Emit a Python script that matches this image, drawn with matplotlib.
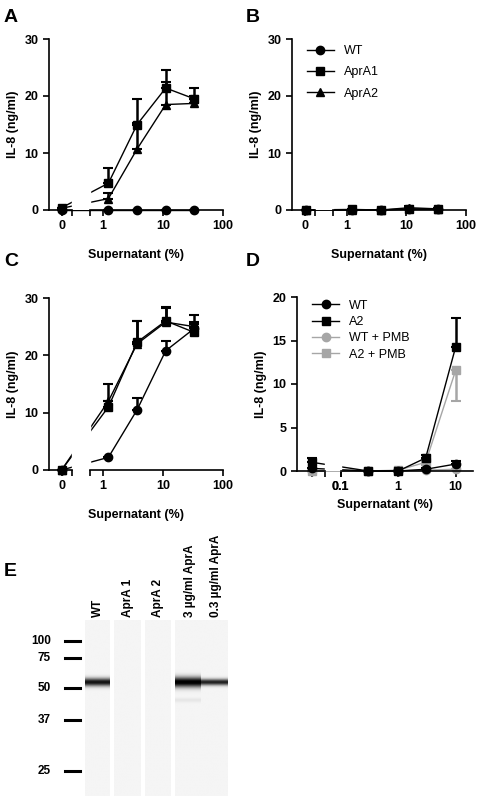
import numpy as np
import matplotlib.pyplot as plt
from matplotlib.transforms import blended_transform_factory

plt.rcParams["font.family"] = ["Liberation Sans", "DejaVu Sans"]
plt.rcParams["font.weight"] = "bold"

W, H = 487, 800
GREY = "#a6a6a6"
FS = 9

# ---- data (supernatant %, IL-8 ng/ml mean, SEM) ----
conc_abc = [1.23, 3.7, 11.1, 33.3]
conc_d = [0.3, 1, 3, 10]

a_wt = [0, 0, 0, 0, 0]
a_wt_err = [0, 0, 0, 0, 0]
a_a1 = [0.4, 4.7, 15.0, 21.4, 19.5]
a_a1_err = [0, 2.7, 4.5, 3.1, 1.9]
a_a2 = [0.3, 2.0, 10.7, 18.5, 18.7]
a_a2_err = [0, 1.0, 4.5, 4.0, 1.3]

b_wt = [0, 0, 0, 0.1, 0.1]
b_wt_err = [0, 0, 0, 0.2, 0.2]
b_a1 = [0, 0.1, 0, 0.2, 0.2]
b_a1_err = [0, 0, 0, 0.2, 0.2]
b_a2 = [0, 0, 0, 0.4, 0.2]
b_a2_err = [0, 0, 0, 0.3, 0.2]

c_wt = [0, 2.2, 10.5, 20.8, 24.7]
c_wt_err = [0, 0, 2.0, 1.7, 1.2]
c_a1 = [0, 11.0, 22.3, 26.0, 24.0]
c_a1_err = [0, 1.0, 3.7, 2.3, 1.5]
c_a2 = [0, 12.0, 22.0, 25.8, 25.0]
c_a2_err = [0, 3.0, 4.0, 2.7, 2.0]

d_wt = [0.3, 0, 0, 0.2, 0.8]
d_wt_err = [0, 0, 0, 0.1, 0.4]
d_a2 = [1.0, 0, 0, 1.5, 14.3]
d_a2_err = [0.5, 0, 0, 0.3, 3.3]
d_wtp = [0, 0, 0, 0.1, 0.2]
d_wtp_err = [0, 0, 0, 0, 0]
d_a2p = [0, 0, 0.1, 1.0, 11.6]
d_a2p_err = [0, 0, 0, 0.3, 3.5]

# western blot: lane names, band intensity at ~52 kDa
lane_names = ["WT", "AprA 1", "AprA 2", "3 µg/ml AprA", "0.3 µg/ml AprA"]
band_int = [0.9, 0.0, 0.0, 1.0, 0.85]
band_width = [2.8, 2.8, 2.8, 3.6, 2.2]
mw_marks = [100, 75, 50, 37, 25]
mw_y = [641, 658, 688, 720, 771]


def add_ax(l, t, r, b):
    return fig.add_axes([l / W, 1 - b / H, (r - l) / W, (b - t) / H])


def series(ax, xs, ys, errs, marker, color, downward=False):
    ax.plot(xs, ys, color=color, lw=1, marker=marker, ms=6, clip_on=False, zorder=3)
    lo = [0] * len(errs)
    yerr = [errs, lo] if downward else [lo, errs]
    ax.errorbar(xs, ys, yerr=yerr, fmt="none", ecolor=color, elinewidth=1.8,
                capsize=3.5, capthick=1.5, clip_on=False, zorder=3)


def broken_axis(ax, zero_x, seg_end, seg_start, xmax, ticks, labels, ymax, yticks, zero_label="0"):
    for s in ["top", "right", "bottom"]:
        ax.spines[s].set_visible(False)
    ax.spines["left"].set_linewidth(1.2)
    trans = blended_transform_factory(ax.transData, ax.transAxes)
    x0 = ax.get_xlim()[0]
    ax.plot([x0, seg_end], [0, 0], color="black", lw=1.2, transform=trans, clip_on=False, zorder=5)
    ax.plot([seg_start, xmax], [0, 0], color="black", lw=1.2, transform=trans, clip_on=False, zorder=5)
    ax.axvspan(seg_end, seg_start, color="white", zorder=4)
    ax.set_xticks([zero_x, seg_end, seg_start] + ticks)
    ax.set_xticklabels([zero_label, "", ""] + labels)
    ax.set_ylim(0, ymax)
    ax.set_yticks(yticks)
    ax.tick_params(labelsize=FS, width=1.2, length=4)


fig = plt.figure(figsize=(W / 100, H / 100), dpi=100)

# ---- A ----
ax = add_ax(49, 39, 223, 210)
ax.set_xlim(-0.9, 2.0)
xa = [-0.69] + list(np.log10(conc_abc))
series(ax, xa, a_wt, a_wt_err, "o", "black")
series(ax, xa, a_a1, a_a1_err, "s", "black")
series(ax, xa, a_a2, a_a2_err, "^", "black")
broken_axis(ax, -0.69, -0.52, -0.21, 2.0, [0, 1, 2], ["1", "10", "100"], 30, [0, 10, 20, 30])
ax.set_xlabel("Supernatant (%)", fontsize=FS, fontweight="bold", labelpad=12)
ax.set_ylabel("IL-8 (ng/ml)", fontsize=FS, fontweight="bold")

# ---- B ----
ax = add_ax(292, 39, 466, 210)
ax.set_xlim(-0.92, 2.0)
ax.plot([], [], color="black", marker="o", ms=6, lw=1, label="WT")
series(ax, xa, b_wt, b_wt_err, "o", "black")
ax.plot([], [], color="black", marker="s", ms=6, lw=1, label="AprA1")
series(ax, xa, b_a1, b_a1_err, "s", "black")
ax.plot([], [], color="black", marker="^", ms=6, lw=1, label="AprA2")
series(ax, xa, b_a2, b_a2_err, "^", "black")
broken_axis(ax, -0.71, -0.54, -0.23, 2.0, [0, 1, 2], ["1", "10", "100"], 30, [0, 10, 20, 30])
ax.set_xlabel("Supernatant (%)", fontsize=FS, fontweight="bold", labelpad=12)
ax.set_ylabel("IL-8 (ng/ml)", fontsize=FS, fontweight="bold")
leg = ax.legend(loc="upper left", bbox_to_anchor=(0.02, 1.03), frameon=False,
                fontsize=FS, handlelength=2.2, labelspacing=0.75)
for t in leg.get_texts():
    t.set_fontweight("normal")

# ---- C ----
ax = add_ax(49, 298, 223, 470)
ax.set_xlim(-0.9, 2.0)
series(ax, xa, c_wt, c_wt_err, "o", "black")
series(ax, xa, c_a1, c_a1_err, "s", "black")
series(ax, xa, c_a2, c_a2_err, "^", "black")
broken_axis(ax, -0.69, -0.52, -0.21, 2.0, [0, 1, 2], ["1", "10", "100"], 30, [0, 10, 20, 30])
ax.set_xlabel("Supernatant (%)", fontsize=FS, fontweight="bold", labelpad=12)
ax.set_ylabel("IL-8 (ng/ml)", fontsize=FS, fontweight="bold")

# ---- D ----
ax = add_ax(297, 297, 473, 471)
ax.set_xlim(-1.76, 1.3)
xd = [-1.5] + list(np.log10(conc_d))
ax.plot([], [], color="black", marker="o", ms=6, lw=1, label="WT")
ax.plot([], [], color="black", marker="s", ms=6, lw=1, label="A2")
ax.plot([], [], color=GREY, marker="o", ms=6, lw=1, label="WT + PMB")
ax.plot([], [], color=GREY, marker="s", ms=6, lw=1, label="A2 + PMB")
series(ax, xd, d_wtp, d_wtp_err, "o", GREY)
series(ax, xd, d_a2p, d_a2p_err, "s", GREY, downward=True)
series(ax, xd, d_wt, d_wt_err, "o", "black")
series(ax, xd, d_a2, d_a2_err, "s", "black")
broken_axis(ax, -1.5, -1.27, -1.0, 1.3, [-1, 0, 1], ["0.1", "1", "10"], 20,
            [0, 5, 10, 15, 20], zero_label="")
ax.set_xlabel("Supernatant (%)", fontsize=FS, fontweight="bold", labelpad=4)
ax.set_ylabel("IL-8 (ng/ml)", fontsize=FS, fontweight="bold")
leg = ax.legend(loc="upper left", bbox_to_anchor=(0.02, 1.05), frameon=False,
                fontsize=FS, handlelength=2.2, labelspacing=0.35)
for t in leg.get_texts():
    t.set_fontweight("normal")

# ---- E: blot ----
lane_px = [(85, 110), (114, 141), (145, 171), (175, 201), (201, 228)]
band_y = 682
ax = add_ax(0, 560, W, 800)
ax.set_xlim(0, W)
ax.set_ylim(800, 560)
ax.axis("off")
yy = np.arange(620, 797)
for i, ((l, r), amp, bw) in enumerate(zip(lane_px, band_int, band_width)):
    prof = amp * np.exp(-0.5 * ((yy - band_y) / bw) ** 2)
    if i == 3:
        prof = prof + 0.06 * np.exp(-0.5 * ((yy - 700) / 1.5) ** 2)
    img = 0.96 - prof[:, None] * np.ones((1, 8))
    ax.imshow(np.clip(img, 0, 1), cmap="gray", vmin=0, vmax=1, aspect="auto",
              extent=[l, r, 796, 620], interpolation="bilinear")
    cx = (l + r) / 2 + (2 if i >= 3 else 0)
    ax.text(cx, 617, lane_names[i], rotation=90, ha="center", va="bottom",
            fontsize=8.5, fontweight="bold")
for mw, y in zip(mw_marks, mw_y):
    ax.plot([65, 80], [y, y], color="black", lw=2.2)
    ax.text(51, y, str(mw), ha="right", va="center", fontsize=8.5, fontweight="bold")

# panel letters
for lab, (x, y) in zip("ABCDE", [(4, 18), (246, 18), (4, 262), (246, 262), (4, 572)]):
    fig.text(x / W, 1 - y / H, lab, fontsize=14, fontweight="bold", va="center")

fig.savefig("out.png", dpi=100)
